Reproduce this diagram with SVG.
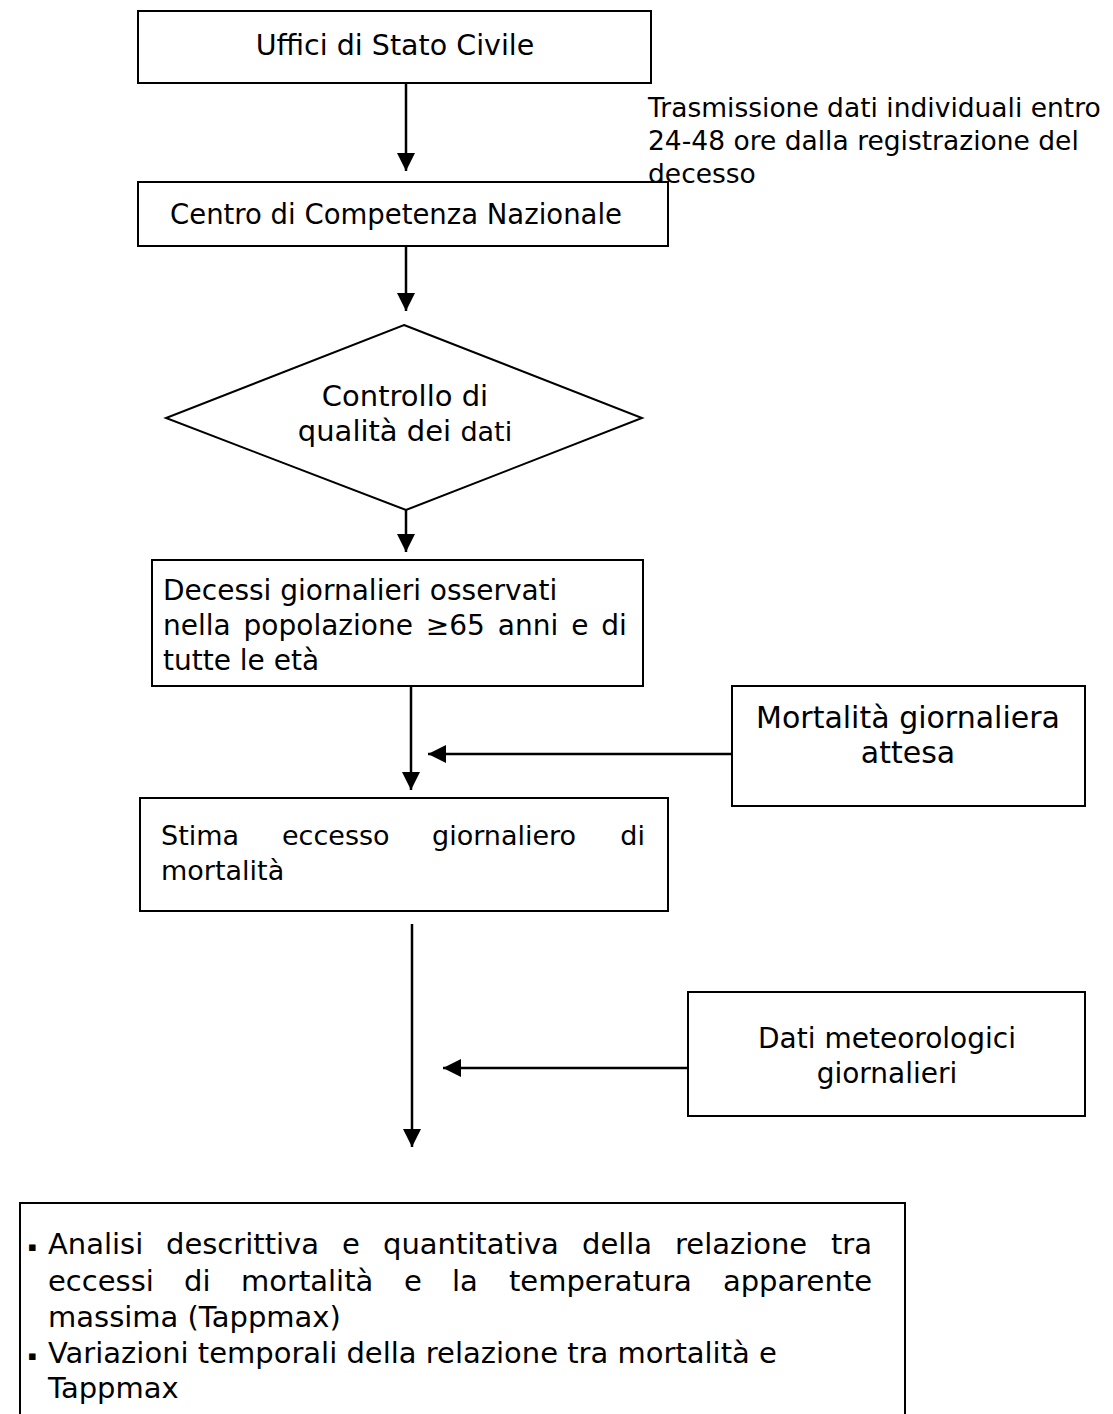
<svg xmlns="http://www.w3.org/2000/svg" width="1113" height="1414" viewBox="0 0 1113 1414">
<style>
  .box { fill: #ffffff; stroke: #000000; stroke-width: 2; }
  .t { font-family: "DejaVu Sans", Verdana, sans-serif; fill: #000000; }
  .c { text-anchor: middle; }
  .e { text-anchor: end; }
  .s27 { font-size: 27px; }
  .s275 { font-size: 27.5px; }
  .s28 { font-size: 28px; }
  .s285 { font-size: 28.5px; }
  .s29 { font-size: 29px; }
  .s30 { font-size: 30px; }
  .ann { font-size: 26.5px; }
  .bul { font-size: 13px; }
  .conn { stroke: #000000; stroke-width: 2.5; fill: none; marker-end: url(#ah); }
</style>
<defs>
  <marker id="ah" markerUnits="userSpaceOnUse" markerWidth="18" markerHeight="18" viewBox="0 0 16 16" refX="16" refY="8" orient="auto">
    <path d="M0,0 L16,8 L0,16 z" fill="#000000"/>
  </marker>
</defs>
<rect width="1113" height="1414" fill="#ffffff"/>

<g id="connectors">
  <line class="conn" x1="406" y1="83" x2="406" y2="171"/>
  <line class="conn" x1="406" y1="246" x2="406" y2="311"/>
  <line class="conn" x1="406" y1="510" x2="406" y2="552"/>
  <line class="conn" x1="411" y1="686" x2="411" y2="790"/>
  <line class="conn" x1="732" y1="754" x2="428" y2="754"/>
  <line class="conn" x1="412" y1="924" x2="412" y2="1147"/>
  <line class="conn" x1="688" y1="1068" x2="443" y2="1068"/>
</g>

<g id="n1">
  <rect class="box" x="138" y="11" width="513" height="72"/>
  <text class="t s285 c" x="395" y="55">Uffici di Stato Civile</text>
</g>

<g id="annotation">
  <text class="t ann" x="648" y="117">Trasmissione dati individuali entro</text>
  <text class="t ann" x="648" y="150">24-48 ore dalla registrazione del</text>
  <text class="t ann" x="648" y="183">decesso</text>
</g>

<g id="n2">
  <rect class="box" x="138" y="182" width="530" height="64"/>
  <text class="t s275 c" x="396" y="224">Centro di Competenza Nazionale</text>
</g>

<g id="n3">
  <polygon class="box" points="404,325 642,418 406,510 166,418"/>
  <text class="t s29 c" x="405" y="406">Controllo di</text>
  <text class="t s29 c" x="405" y="441">qualità dei <tspan class="s27">dati</tspan></text>
</g>

<g id="n4">
  <rect class="box" x="152" y="560" width="491" height="126"/>
  <text class="t s28" x="163" y="600">Decessi giornalieri osservati</text>
  <text class="t s28" x="163" y="635" word-spacing="4">nella popolazione ≥65 anni e di</text>
  <text class="t s28" x="163" y="670">tutte le età</text>
</g>

<g id="n5">
  <rect class="box" x="732" y="686" width="353" height="120"/>
  <text class="t s30 c" x="908" y="728">Mortalità giornaliera</text>
  <text class="t s30 c" x="908" y="763">attesa</text>
</g>

<g id="n6">
  <rect class="box" x="140" y="798" width="528" height="113"/>
  <text class="t s27" y="845"><tspan x="161">Stima</tspan><tspan x="282">eccesso</tspan><tspan x="432">giornaliero</tspan><tspan x="645" class="e">di</tspan></text>
  <text class="t s27" x="161" y="880">mortalità</text>
</g>

<g id="n7">
  <rect class="box" x="688" y="992" width="397" height="124"/>
  <text class="t s28 c" x="887" y="1048">Dati meteorologici</text>
  <text class="t s28 c" x="887" y="1083">giornalieri</text>
</g>

<g id="n8">
  <rect class="box" x="20" y="1203" width="885" height="260"/>
  <text class="t bul" x="28" y="1251">▪</text>
  <text class="t s29" y="1254"><tspan x="48">Analisi</tspan><tspan x="166">descrittiva</tspan><tspan x="342">e</tspan><tspan x="383">quantitativa</tspan><tspan x="582">della</tspan><tspan x="675">relazione</tspan><tspan x="872" class="e">tra</tspan></text>
  <text class="t s29" y="1291"><tspan x="48">eccessi</tspan><tspan x="184">di</tspan><tspan x="241">mortalità</tspan><tspan x="404">e</tspan><tspan x="452">la</tspan><tspan x="509">temperatura</tspan><tspan x="872" class="e">apparente</tspan></text>
  <text class="t s29" x="48" y="1327">massima (Tappmax)</text>
  <text class="t bul" x="28" y="1360">▪</text>
  <text class="t s29" x="48" y="1363">Variazioni temporali della relazione tra mortalità e</text>
  <text class="t s29" x="48" y="1398">Tappmax</text>
</g>
</svg>
